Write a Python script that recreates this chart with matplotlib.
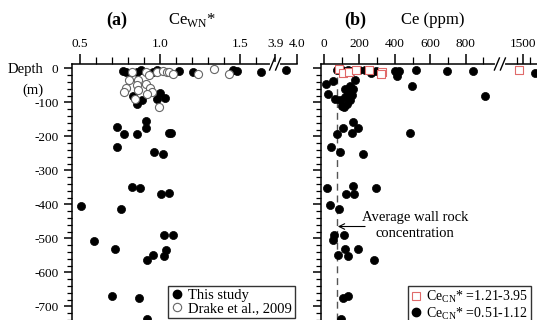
import numpy as np
import matplotlib.pyplot as plt
from matplotlib.lines import Line2D

plt.rcParams['font.family'] = ['Liberation Serif', 'DejaVu Serif']
plt.rcParams['mathtext.fontset'] = 'custom'
plt.rcParams['mathtext.rm'] = 'Liberation Serif'
plt.rcParams['axes.unicode_minus'] = False

# ---- data ----
# (a) Ce_WN* vs depth, this study (filled)
a_study_ce = [0.77, 0.79, 0.86, 0.88, 0.96, 0.98, 1.12, 1.21, 1.46, 1.48, 1.63, 3.96,
              0.83, 0.857, 0.89, 0.98, 1.0, 1.03,
              0.912, 0.914, 0.735, 0.779, 0.856, 1.058, 1.07, 0.735, 0.964, 1.019,
              0.829, 0.877, 1.008, 1.06, 0.508, 0.758, 1.027, 1.081, 0.587, 1.04,
              0.72, 1.029, 0.96, 0.919, 0.70, 0.869, 0.919]
a_study_depth = [-8, -12, -10, -6, -10, -6, -8, -10, -6, -8, -10, -6,
                 -80, -105, -92, -90, -71, -87,
                 -154, -174, -172, -194, -194, -189, -189, -231, -247, -252,
                 -348, -353, -369, -367, -404, -414, -490, -490, -509, -534,
                 -532, -551, -550, -564, -669, -676, -737]
# (a) Drake et al., 2009 (open)
a_drake_ce = [0.825, 0.917, 0.98, 1.019, 1.044, 1.06, 1.085, 1.24, 1.34, 1.43,
              0.81, 0.866, 0.93, 0.917, 0.856, 0.79, 0.777, 0.864, 0.94, 0.954,
              0.846, 0.92, 0.998]
a_drake_depth = [-11, -10, -11, -8, -12, -10, -16, -15, -3, -15,
                 -35, -35, -20, -45, -50, -57, -69, -63, -57, -69,
                 -89, -76, -113]

# (b) Ce (ppm) vs depth, Ce_CN* = 0.51-1.12 (filled)
b_low_ce = [72, 100, 134, 160, 200, 230, 265, 294, 403, 425, 411, 520, 697, 844, 1590,
            495, 910, 486,
            11, 53, 24, 62, 100, 128, 175, 147, 119, 166, 134, 156, 119, 90, 147, 113,
            166, 106, 194, 156, 72, 38, 90, 222,
            19, 162, 124, 171, 294, 34, 85, 58, 113, 49, 119, 194, 81, 134, 282,
            137, 109, 94]
b_low_depth = [-5, -6, -5, -8, -6, -5, -14, -8, -8, -8, -23, -5, -8, -8, -14,
               -53, -82, -190,
               -45, -38, -76, -91, -111, -104, -35, -53, -60, -62, -69, -79, -84, -94, -93, -113,
               -157, -174, -174, -189, -194, -231, -247, -252,
               -351, -346, -368, -368, -353, -402, -414, -490, -490, -506, -532, -532, -549, -551, -563,
               -669, -675, -737]
# (b) Ce_CN* = 1.21-3.95 (open squares)
b_high_ce = [87, 109, 141, 179, 256, 326, 322, 1470]
b_high_depth = [-3, -14, -12, -4, -4, -11, -15, -4]

wall_rock_ce = 72

a_ticks = [0.5, 1.0, 1.5, 3.9, 4.0]
a_ticklabels = ['0.5', '1.0', '1.5', '3.9', '4.0']
a_minor = [0.6, 0.7, 0.8, 0.9, 1.1, 1.2, 1.3, 1.4, 1.6]
b_ticks = [0, 200, 400, 600, 800, 1500]
b_minor = [100, 300, 500, 700, 900, 1450, 1550]
depth_ticks = [0, -100, -200, -300, -400, -500, -600, -700]


# broken x axes through a piecewise function scale
def make_break(b1, b2, k):
    def fwd(v):
        v = np.asarray(v, dtype=float)
        return np.where(v <= b1, v, b1 + np.maximum(v - b2, 0) * k)

    def inv(u):
        u = np.asarray(u, dtype=float)
        return np.where(u <= b1, u, b2 + (u - b1) / k)
    return fwd, inv


fwd_a, inv_a = make_break(1.72, 3.917, 1.625)
fwd_b, inv_b = make_break(994, 1321, 0.7345)

W, H = 537, 320
fig = plt.figure(figsize=(W / 100, H / 100), dpi=100)
top = 1 - 64 / H
ax_a = fig.add_axes([71.7 / W, 0, (296.7 - 71.7) / W, top])
ax_b = fig.add_axes([320.7 / W, 0, (545 - 320.7) / W, top])

for ax in (ax_a, ax_b):
    ax.spines['right'].set_visible(False)
    ax.spines['bottom'].set_visible(False)
    for s in ('top', 'left'):
        ax.spines[s].set_linewidth(1.1)
    ax.xaxis.tick_top()
    ax.set_ylim(-740, 13)
    ax.set_yticks(depth_ticks)
    ax.set_yticks(np.arange(-740, 1, 20), minor=True)
    ax.tick_params(axis='y', which='major', direction='out', length=6, width=1.1, labelsize=9.5)
    ax.tick_params(axis='y', which='minor', direction='out', length=3.5, width=0.9)
    ax.tick_params(axis='x', which='major', direction='out', length=7, width=1.1, labelsize=9.5, pad=3)
    ax.tick_params(axis='x', which='minor', direction='out', length=5, width=0.9)

ax_a.set_yticklabels([str(t) for t in depth_ticks])
ax_b.set_yticklabels([])

# panel (a)
ax_a.set_xscale('function', functions=(fwd_a, inv_a))
ax_a.set_xlim(0.45, 4.0)
ax_a.set_xticks(a_ticks)
ax_a.set_xticklabels(a_ticklabels)
ax_a.set_xticks(a_minor, minor=True)
ax_a.scatter(a_study_ce, a_study_depth, s=34, c='black', edgecolors='black', lw=0.5, zorder=3, clip_on=True)
ax_a.scatter(a_drake_ce, a_drake_depth, s=34, facecolors='white', edgecolors='#666666', lw=0.8, zorder=4)

# panel (b)
ax_b.set_xscale('function', functions=(fwd_b, inv_b))
ax_b.set_xlim(-19, 1668)
ax_b.set_xticks(b_ticks)
ax_b.set_xticklabels([str(t) for t in b_ticks])
ax_b.set_xticks(b_minor, minor=True)
ax_b.axvline(wall_rock_ce, color='#555555', lw=1.0, ls=(0, (5, 3.5)), zorder=1)
ax_b.scatter(b_low_ce, b_low_depth, s=34, c='black', edgecolors='black', lw=0.5, zorder=3)
ax_b.scatter(b_high_ce, b_high_depth, s=30, marker='s', facecolors='white', edgecolors='#e06a6a', lw=0.8, zorder=4)
ax_b.annotate('', xy=(wall_rock_ce + 6, -465), xytext=(232, -465),
              arrowprops=dict(arrowstyle='->', lw=0.8, color='black', shrinkA=0, shrinkB=0))
ax_b.text(514, -462, 'Average wall rock\nconcentration', ha='center', va='center',
          fontsize=10.5, linespacing=1.35)


# break marks on the top spine
def draw_break(ax, xval, fwd, xlim):
    lo, hi = fwd(xlim[0]), fwd(xlim[1])
    xf = float((fwd(xval) - lo) / (hi - lo))
    axw = ax.get_position().width * W
    axh = ax.get_position().height * H
    d = 3.0 / axw
    ax.plot([xf - d, xf + d], [1, 1], color='white', lw=3, transform=ax.transAxes, clip_on=False, zorder=6)
    for off in (-d, d):
        ax.plot([xf + off - 2.5 / axw, xf + off + 2.5 / axw], [1 - 6 / axh, 1 + 6 / axh],
                color='black', lw=1.0, transform=ax.transAxes, clip_on=False, zorder=7)


draw_break(ax_a, 1.72, fwd_a, (0.45, 4.0))
draw_break(ax_b, 994, fwd_b, (-19, 1668))

# titles
fig.text(117 / W, 1 - 20 / H, '(a)', fontsize=13, fontweight='bold', ha='center', va='center')
fig.text(192 / W, 1 - 20 / H, r'Ce$_{\mathregular{WN}}$*', fontsize=12, ha='center', va='center')
fig.text(355 / W, 1 - 20 / H, '(b)', fontsize=13, fontweight='bold', ha='center', va='center')
fig.text(433 / W, 1 - 20 / H, 'Ce (ppm)', fontsize=12, ha='center', va='center')
fig.text(25 / W, 1 - 70 / H, 'Depth', fontsize=10.5, ha='center', va='center')
fig.text(33 / W, 1 - 90 / H, '(m)', fontsize=10.5, ha='center', va='center')

# legends
h_a = [Line2D([], [], ls='none', marker='o', ms=6, mfc='black', mec='black'),
       Line2D([], [], ls='none', marker='o', ms=6, mfc='white', mec='#666666', mew=0.8)]
leg_a = fig.legend(h_a, ['This study', 'Drake et al., 2009'], loc='upper left',
                   bbox_to_anchor=(168 / W, 1 - 286 / H), borderaxespad=0, fontsize=10.5,
                   frameon=True, fancybox=False, edgecolor='black', handlelength=0.8,
                   handletextpad=0.4, borderpad=0.2, labelspacing=0.0)
leg_a.get_frame().set_linewidth(1.0)

h_b = [Line2D([], [], ls='none', marker='s', ms=5.5, mfc='white', mec='#e06a6a', mew=0.8),
       Line2D([], [], ls='none', marker='o', ms=6, mfc='black', mec='black')]
leg_b = fig.legend(h_b, [r'Ce$_{\mathregular{CN}}$* =1.21-3.95', r'Ce$_{\mathregular{CN}}$* =0.51-1.12'],
                   loc='upper left', bbox_to_anchor=(408 / W, 1 - 286 / H), borderaxespad=0,
                   fontsize=10, frameon=True, fancybox=False, edgecolor='black', handlelength=0.8,
                   handletextpad=0.3, borderpad=0.2, labelspacing=0.0)
leg_b.get_frame().set_linewidth(1.0)

fig.savefig('out.png', dpi=100)
